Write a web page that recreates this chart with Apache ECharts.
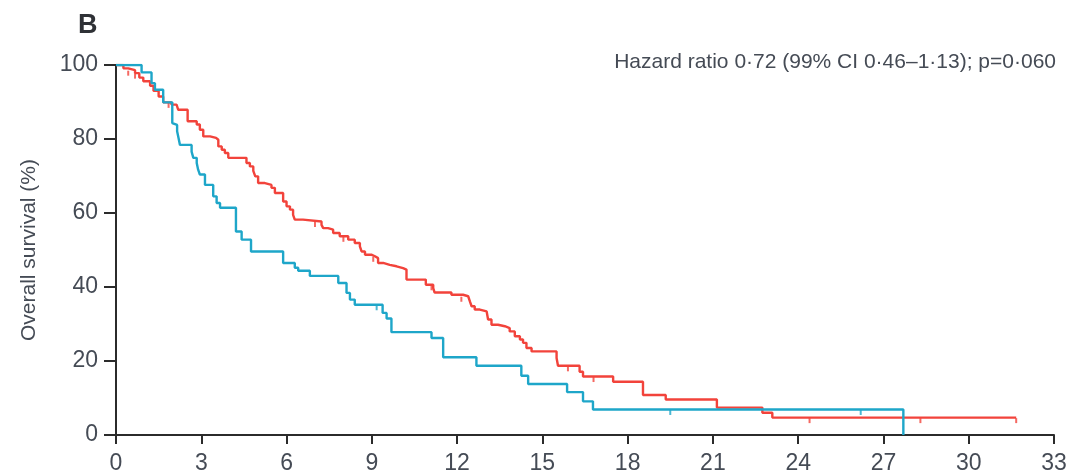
<!DOCTYPE html>
<html>
<head>
<meta charset="utf-8">
<script src="https://cdn.jsdelivr.net/npm/echarts@6/dist/echarts.min.js"></script>
<style>html,body{margin:0;padding:0;background:#fff}#c{width:1086px;height:476px}</style>
</head>
<body>
<div id="c"></div>
<script>
// ---- data (months, overall survival %) ----
const xTicks = [0, 3, 6, 9, 12, 15, 18, 21, 24, 27, 30, 33];
const yTicks = [0, 20, 40, 60, 80, 100];

const redTimes = [0,0.26,0.43,0.67,0.82,0.96,1.20,1.32,1.50,1.66,1.95,2.13,2.19,2.52,2.84,2.95,3.07,3.31,3.52,3.60,3.72,3.83,3.95,4.59,4.71,4.83,4.90,5.00,5.24,5.47,5.59,5.88,6.00,6.12,6.23,6.29,6.58,7.23,7.29,7.46,7.64,7.87,8.17,8.40,8.58,8.64,8.76,9.00,9.11,9.22,9.40,9.63,9.87,10.10,10.22,10.90,11.16,11.21,11.80,12.21,12.39,12.45,12.51,12.62,12.80,13.04,13.09,13.21,13.44,13.68,13.85,14.03,14.21,14.32,14.44,14.62,15.50,15.55,16.31,16.43,17.49,18.54,19.34,21.14,22.74,23.09,31.67];
const redSurv  = [100,99.1,98.6,97.8,96.6,95.6,94.4,93.0,91.5,89.9,89.3,88.8,87.9,84.8,83.9,82.5,80.7,80.3,79.8,78.0,77.1,76.2,74.9,73.5,72.6,71.4,69.9,68.1,67.6,66.8,65.4,63.1,61.8,60.9,59.5,58.2,57.7,56.8,55.9,55.5,54.6,53.7,52.8,51.9,51.0,49.6,48.7,48.3,47.8,46.5,46.0,45.6,45.1,44.7,42.0,40.6,39.7,38.5,37.9,37.5,37.0,36.1,34.8,33.9,33.4,33.0,31.2,29.8,29.4,28.9,28.0,26.7,25.8,24.9,23.5,22.6,20.8,18.7,17.1,15.8,14.4,10.8,9.6,7.4,6.0,4.7,4.7];

const blueTimes = [0,0.90,1.25,1.37,1.66,1.98,2.03,2.15,2.20,2.25,2.66,2.72,2.84,2.89,2.95,3.13,3.42,3.54,3.66,4.22,4.42,4.75,5.88,6.29,6.41,6.82,7.82,8.11,8.23,8.40,9.38,9.52,9.69,11.10,11.51,12.68,14.26,14.50,15.87,16.43,16.78,27.70,27.70];
const blueSurv  = [100,98.0,95.1,93.3,89.9,84.3,83.8,82.1,80.3,78.4,76.6,74.9,73.5,71.7,70.4,67.6,64.5,62.7,61.4,55.0,52.8,49.6,46.5,45.2,44.4,43.0,41.1,38.4,36.6,35.2,33.0,31.5,27.8,26.2,21.0,18.7,16.0,13.8,11.6,9.1,6.9,6.9,0];

const redCensorTimes = [0.43,0.67,1.85,7.00,8.00,9.05,11.10,12.15,15.90,16.80,24.40,28.30,31.67];
const redCensorSurv  = [98.6,97.8,89.9,57.7,53.7,48.3,40.6,37.5,18.7,15.8,4.7,4.7,4.7];
const blueCensorTimes = [9.17,19.50,26.20];
const blueCensorSurv  = [35.2,6.9,6.9];

const titleText = 'B';
const hrText = 'Hazard ratio 0\u00b772 (99% CI 0\u00b746\u20131\u00b713); p=0\u00b7060';
const yName = 'Overall survival (%)';

// ---- chart ----
const FONT = '"Liberation Sans Narrow", "Liberation Sans", Arial, sans-serif';
const TXT = '#454b55';
const RED = '#f2433b';
const BLUE = '#1ea6c9';
const zip = (a, b) => a.map((v, i) => [v, b[i]]);

const chart = echarts.init(document.getElementById('c'), null, {renderer: 'canvas'});
chart.setOption({
  animation: false,
  backgroundColor: '#fff',
  textStyle: {fontFamily: FONT},
  grid: {left: 116, right: 32, top: 65, bottom: 41, containLabel: false},
  graphic: [
    {type: 'text', left: 78, top: 12, style: {text: titleText, font: 'bold 27px ' + FONT, fill: '#2f3136'}},
    {type: 'text', right: 30, top: 52, style: {text: hrText, font: '21px ' + FONT, fill: TXT}}
  ],
  xAxis: {
    type: 'value', min: 0, max: 33, interval: 3,
    axisLine: {show: true, lineStyle: {color: '#2b2b2b', width: 2}},
    axisTick: {show: true, inside: false, length: 9, lineStyle: {color: '#2b2b2b', width: 2}},
    axisLabel: {margin: 17, fontSize: 23, color: TXT, fontFamily: FONT,
      customValues: xTicks, formatter: v => String(v)},
    splitLine: {show: false}
  },
  yAxis: {
    type: 'value', min: 0, max: 100, interval: 20,
    name: yName, nameLocation: 'middle', nameGap: 76, nameRotate: 90,
    nameTextStyle: {fontSize: 21, color: TXT, fontFamily: FONT},
    axisLine: {show: true, lineStyle: {color: '#2b2b2b', width: 2}},
    axisTick: {show: true, inside: false, length: 12, lineStyle: {color: '#2b2b2b', width: 2}},
    axisLabel: {margin: 18, fontSize: 23, color: TXT, fontFamily: FONT,
      formatter: v => String(v)},
    splitLine: {show: false}
  },
  series: [
    {type: 'line', step: 'end', data: zip(redTimes, redSurv), showSymbol: false, symbol: 'none',
      lineStyle: {color: RED, width: 2.4}, z: 3},
    {type: 'line', step: 'end', data: zip(blueTimes, blueSurv), showSymbol: false, symbol: 'none',
      lineStyle: {color: BLUE, width: 2.4}, z: 4},
    {type: 'scatter', data: zip(redCensorTimes, redCensorSurv), symbol: 'rect', symbolSize: [2, 5],
      symbolOffset: [0, 3], itemStyle: {color: RED}, z: 3},
    {type: 'scatter', data: zip(blueCensorTimes, blueCensorSurv), symbol: 'rect', symbolSize: [2, 5],
      symbolOffset: [0, 3], itemStyle: {color: BLUE}, z: 4}
  ]
});
</script>
</body>
</html>
